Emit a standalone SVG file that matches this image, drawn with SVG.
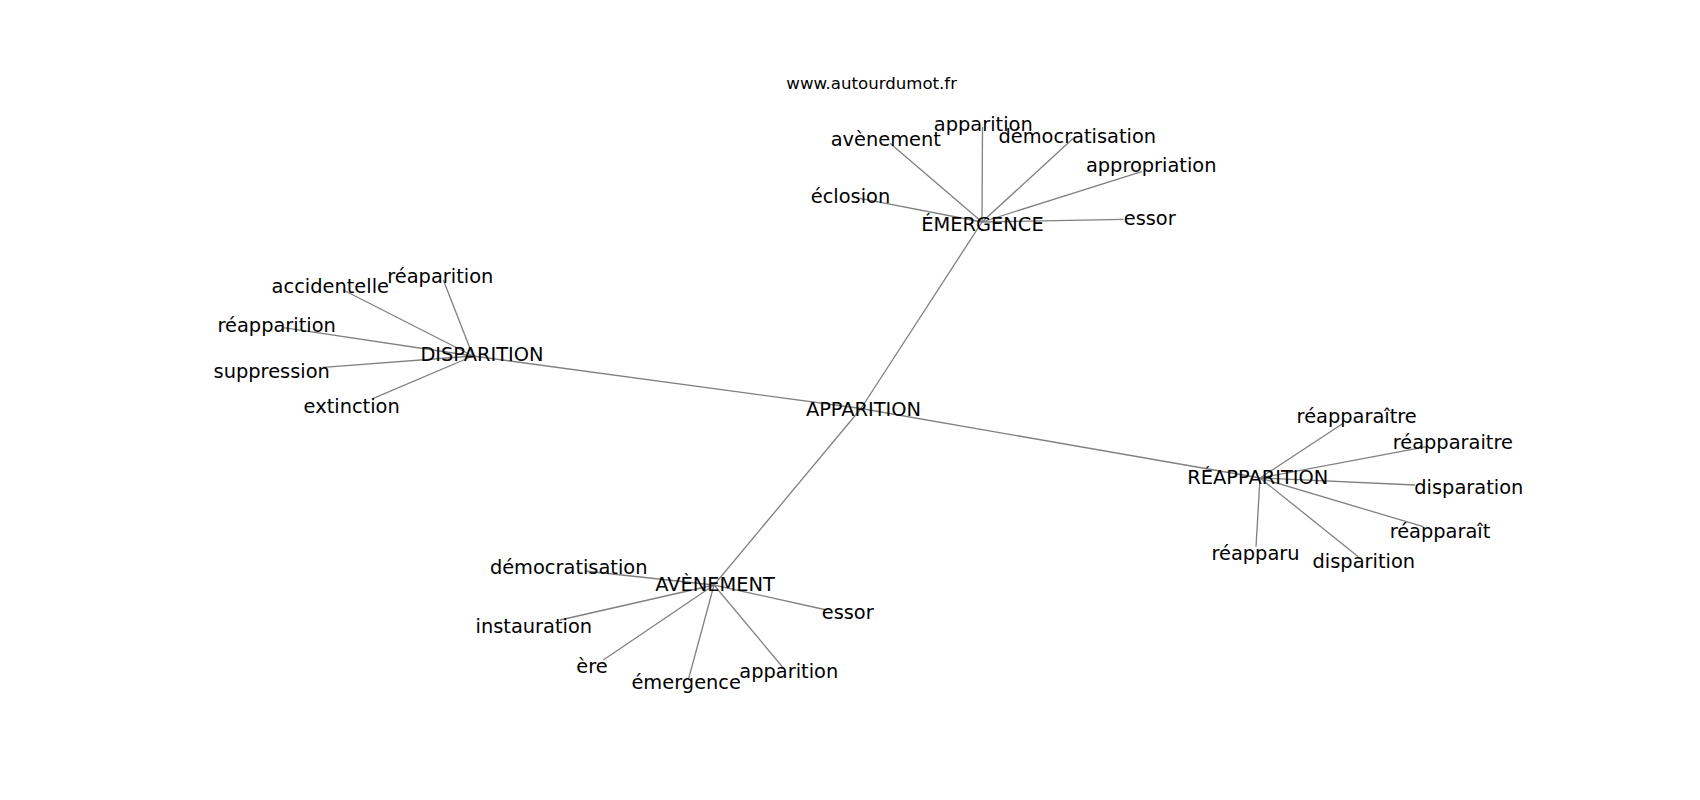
<svg xmlns="http://www.w3.org/2000/svg" width="1700" height="800" viewBox="0 0 1700 800">
<style>
.e{stroke:#808080;stroke-width:1.3;fill:none}
text{font-family:"DejaVu Sans","Liberation Sans",sans-serif;fill:#000;text-anchor:middle}
.l{font-size:19.4px}
.w{font-size:16.6px}
</style>
<rect width="1700" height="800" fill="#fff"/>
<g id="connectors">
<line class="e" x1="982" y1="222" x2="861" y2="408.5"/>
<line class="e" x1="473" y1="356" x2="861" y2="408.5"/>
<line class="e" x1="1260" y1="478" x2="861" y2="408.5"/>
<line class="e" x1="714" y1="585" x2="861" y2="408.5"/>
<line class="e" x1="982" y1="222" x2="982.5" y2="127"/>
<line class="e" x1="982" y1="222" x2="890" y2="143.3"/>
<line class="e" x1="982" y1="222" x2="1073.3" y2="138.3"/>
<line class="e" x1="982" y1="222" x2="1141.7" y2="171.7"/>
<line class="e" x1="982" y1="222" x2="860" y2="198.3"/>
<line class="e" x1="982" y1="222" x2="1123.3" y2="219.3"/>
<line class="e" x1="473" y1="356" x2="343.3" y2="290"/>
<line class="e" x1="473" y1="356" x2="443.3" y2="280"/>
<line class="e" x1="473" y1="356" x2="283.3" y2="327.7"/>
<line class="e" x1="473" y1="356" x2="323.3" y2="367.3"/>
<line class="e" x1="473" y1="356" x2="373.3" y2="398.3"/>
<line class="e" x1="1260" y1="478" x2="1343.3" y2="423.3"/>
<line class="e" x1="1260" y1="478" x2="1426.7" y2="446.7"/>
<line class="e" x1="1260" y1="478" x2="1415" y2="485"/>
<line class="e" x1="1260" y1="478" x2="1423.3" y2="526.7"/>
<line class="e" x1="1260" y1="478" x2="1256" y2="546.7"/>
<line class="e" x1="1260" y1="478" x2="1358.3" y2="556.7"/>
<line class="e" x1="714" y1="585" x2="585" y2="571"/>
<line class="e" x1="714" y1="585" x2="560" y2="620"/>
<line class="e" x1="714" y1="585" x2="826.7" y2="610"/>
<line class="e" x1="714" y1="585" x2="603.3" y2="660"/>
<line class="e" x1="714" y1="585" x2="688.3" y2="680"/>
<line class="e" x1="714" y1="585" x2="785" y2="670"/>
</g>
<g id="watermark"><text class="w" x="871.7" y="88.5">www.autourdumot.fr</text></g>
<g id="n-apparition-main"><text class="l" x="863.5" y="415.5">APPARITION</text></g>
<g id="n-emergence"><text class="l" x="982.5" y="231.2">ÉMERGENCE</text></g>
<g id="n-em-apparition"><text class="l" x="983.3" y="130.8">apparition</text></g>
<g id="n-em-avenement"><text class="l" x="885.8" y="145.8">avènement</text></g>
<g id="n-em-democratisation"><text class="l" x="1077.3" y="142.5">démocratisation</text></g>
<g id="n-em-appropriation"><text class="l" x="1151.2" y="172.3">appropriation</text></g>
<g id="n-em-eclosion"><text class="l" x="850.5" y="202.5">éclosion</text></g>
<g id="n-em-essor"><text class="l" x="1149.7" y="225">essor</text></g>
<g id="n-disparition"><text class="l" x="482" y="361.2">DISPARITION</text></g>
<g id="n-di-accidentelle"><text class="l" x="330.3" y="292.5">accidentelle</text></g>
<g id="n-di-reaparition"><text class="l" x="440.3" y="282.5">réaparition</text></g>
<g id="n-di-reapparition"><text class="l" x="276.7" y="331.5">réapparition</text></g>
<g id="n-di-suppression"><text class="l" x="271.7" y="377.5">suppression</text></g>
<g id="n-di-extinction"><text class="l" x="351.7" y="412.5">extinction</text></g>
<g id="n-reapparition"><text class="l" x="1257.8" y="483.8">RÉAPPARITION</text></g>
<g id="n-re-reapparaitre1"><text class="l" x="1356.7" y="422.5">réapparaître</text></g>
<g id="n-re-reapparaitre2"><text class="l" x="1452.8" y="449.2">réapparaitre</text></g>
<g id="n-re-disparation"><text class="l" x="1468.8" y="494.3">disparation</text></g>
<g id="n-re-reapparait"><text class="l" x="1440" y="537.5">réapparaît</text></g>
<g id="n-re-reapparu"><text class="l" x="1255.5" y="560.2">réapparu</text></g>
<g id="n-re-disparition"><text class="l" x="1363.8" y="567.6">disparition</text></g>
<g id="n-avenement"><text class="l" x="715" y="590.5">AVÈNEMENT</text></g>
<g id="n-av-democratisation"><text class="l" x="568.7" y="574.2">démocratisation</text></g>
<g id="n-av-instauration"><text class="l" x="533.8" y="632.6">instauration</text></g>
<g id="n-av-essor"><text class="l" x="847.7" y="619.2">essor</text></g>
<g id="n-av-ere"><text class="l" x="592" y="672.7">ère</text></g>
<g id="n-av-emergence"><text class="l" x="686.2" y="689.3">émergence</text></g>
<g id="n-av-apparition"><text class="l" x="788.8" y="678.3">apparition</text></g>
</svg>
